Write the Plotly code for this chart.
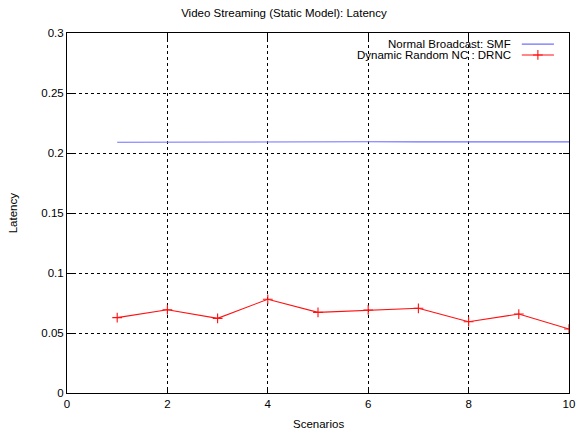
import plotly.graph_objects as go

# Scenario numbers and measured latency per protocol
scenarios = [1, 2, 3, 4, 5, 6, 7, 8, 9, 10]
smf_latency = [0.2090, 0.2092, 0.2094, 0.2094, 0.2093, 0.2094, 0.2093, 0.2092, 0.2093, 0.2093]
drnc_latency = [0.0628, 0.0694, 0.0622, 0.0781, 0.0672, 0.0692, 0.0706, 0.0594, 0.0658, 0.0533]

series_names = ["Normal Broadcast: SMF", "Dynamic Random NC : DRNC"]
x_ticks = [0, 2, 4, 6, 8, 10]
y_ticks = [0, 0.05, 0.1, 0.15, 0.2, 0.25, 0.3]
y_tick_text = ["0", "0.05", "0.1", "0.15", "0.2", "0.25", "0.3"]

blue = "#7070ff"
red = "#ff1010"
font = "Liberation Sans, Arial, sans-serif"
fsize = 11.5

fig = go.Figure()
fig.add_trace(go.Scatter(
    x=scenarios, y=smf_latency, mode="lines", name=series_names[0],
    line=dict(color=blue, width=1.1), showlegend=False,
))
fig.add_trace(go.Scatter(
    x=scenarios, y=drnc_latency, mode="lines+markers", name=series_names[1],
    line=dict(color=red, width=1.1),
    marker=dict(symbol="cross-thin", size=7, line=dict(color=red, width=1.1)),
    showlegend=False,
))

# Gnuplot-style key: right-aligned labels followed by the line samples
key_rows = [(0.969, series_names[0], blue, False), (0.939, series_names[1], red, True)]
for yp, label, color, with_marker in key_rows:
    fig.add_annotation(
        xref="paper", yref="paper", x=0.889, y=yp, xanchor="right", yanchor="middle",
        text=label, showarrow=False, font=dict(family=font, size=fsize, color="#000"),
    )
    fig.add_shape(
        type="line", xref="paper", yref="paper", x0=0.906, x1=0.970, y0=yp, y1=yp,
        line=dict(color=color, width=1.1),
    )
    if with_marker:
        fig.add_trace(go.Scatter(
            x=[0.938], y=[yp], xaxis="x2", yaxis="y2", mode="markers",
            marker=dict(symbol="cross-thin", size=7, line=dict(color=color, width=1.1)),
            showlegend=False, hoverinfo="skip",
        ))

# Axis titles
fig.add_annotation(
    xref="paper", yref="paper", x=0.5, y=-0.086, xanchor="center", yanchor="middle",
    text="Scenarios", showarrow=False, font=dict(family=font, size=fsize, color="#000"),
)
fig.add_annotation(
    xref="paper", yref="paper", x=-0.107, y=0.5, xanchor="center", yanchor="middle",
    text="Latency", textangle=-90, showarrow=False,
    font=dict(family=font, size=fsize, color="#000"),
)

axis_common = dict(
    showline=True, linecolor="#000", linewidth=1, mirror="ticks",
    ticks="inside", ticklen=6, tickcolor="#000",
    showgrid=True, gridcolor="#000", gridwidth=1, griddash="dot",
    zeroline=False, automargin=False,
    tickfont=dict(family=font, size=fsize, color="#000"),
)

fig.update_layout(
    width=576, height=432,
    margin=dict(l=67, r=7, t=33, b=39),
    paper_bgcolor="white", plot_bgcolor="white",
    title=dict(text="Video Streaming (Static Model): Latency", xref="container", x=0.493,
               xanchor="center", yref="container", y=0.970, yanchor="middle",
               font=dict(family=font, size=fsize, color="#000")),
    xaxis=dict(range=[0, 10], tickvals=x_ticks, **axis_common),
    yaxis=dict(range=[0, 0.3], tickvals=y_ticks, ticktext=y_tick_text, **axis_common),
    xaxis2=dict(range=[0, 1], overlaying="x", visible=False),
    yaxis2=dict(range=[0, 1], overlaying="y", visible=False),
    showlegend=False,
)

fig.write_html("out.html")
